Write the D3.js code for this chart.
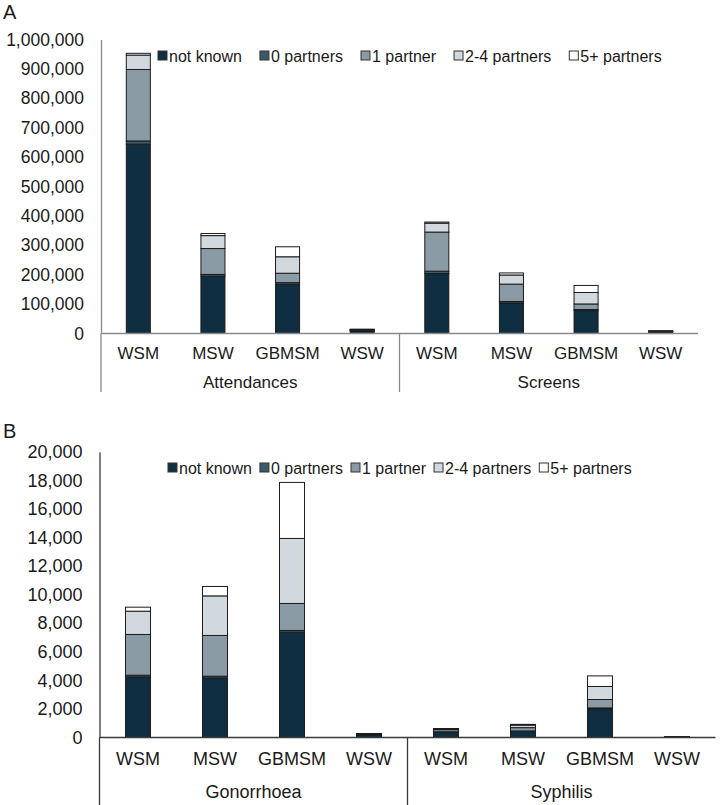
<!DOCTYPE html>
<meta charset="utf-8">
<script src="https://d3js.org/d3.v7.min.js"></script>
<style>
  body { margin: 0; background: #fff; }
  svg text { font-family: "Liberation Sans", Arial, sans-serif; fill: #1a1a1a; }
</style>
<div id="chart"></div>
<script>

// categories and groups (same for both panels)
var categories = ["WSM", "MSW", "GBMSM", "WSW"];
var seriesNames = ["not known", "0 partners", "1 partner", "2-4 partners", "5+ partners"];
var seriesColors = ["#0f2e41", "#3c5a6b", "#8a9ba5", "#d2d9de", "#ffffff"];

// Panel A: Attendances, Screens  (order WSM, MSW, GBMSM, WSW)
var groupsA = ["Attendances", "Screens"];
var attNotKnown = [644000, 195000, 167000, 9000];
var attZero     = [11000, 6000, 6000, 1000];
var attOne      = [243000, 88000, 32000, 2500];
var attTwoFour  = [49000, 44000, 56000, 1500];
var attFivePlus = [6000, 7000, 34000, 500];
var scrNotKnown = [204000, 104000, 78000, 6000];
var scrZero     = [8000, 5000, 3500, 500];
var scrOne      = [133000, 59000, 19000, 1500];
var scrTwoFour  = [30000, 31000, 39000, 800];
var scrFivePlus = [4000, 7000, 24000, 200];
var ticksA = [0, 100000, 200000, 300000, 400000, 500000, 600000, 700000, 800000, 900000, 1000000];

// Panel B: Gonorrhoea, Syphilis
var groupsB = ["Gonorrhoea", "Syphilis"];
var gonNotKnown = [4240, 4170, 7370, 180];
var gonZero     = [120, 120, 120, 20];
var gonOne      = [2850, 2850, 1890, 50];
var gonTwoFour  = [1630, 2770, 4550, 25];
var gonFivePlus = [280, 660, 3920, 5];
var syphNotKnown = [380, 440, 2000, 40];
var syphZero     = [20, 20, 70, 5];
var syphOne      = [150, 230, 590, 15];
var syphTwoFour  = [60, 170, 910, 7];
var syphFivePlus = [20, 60, 740, 3];
var ticksB = [0, 2000, 4000, 6000, 8000, 10000, 12000, 14000, 16000, 18000, 20000];

function buildRows(groups, first, second) {
  var rows = [];
  [first, second].forEach(function(g, gi) {
    categories.forEach(function(c, ci) {
      var row = { key: gi + "-" + c, cat: c, group: groups[gi] };
      seriesNames.forEach(function(s, si) { row[s] = g[si][ci]; });
      rows.push(row);
    });
  });
  return rows;
}

var rowsA = buildRows(groupsA,
  [attNotKnown, attZero, attOne, attTwoFour, attFivePlus],
  [scrNotKnown, scrZero, scrOne, scrTwoFour, scrFivePlus]);
var rowsB = buildRows(groupsB,
  [gonNotKnown, gonZero, gonOne, gonTwoFour, gonFivePlus],
  [syphNotKnown, syphZero, syphOne, syphTwoFour, syphFivePlus]);

var svg = d3.select("#chart").append("svg")
  .attr("width", 722)
  .attr("height", 805);

var fmt = d3.format(",");

function drawPanel(cfg) {
  var g = svg.append("g");

  var x = d3.scaleBand()
    .domain(cfg.rows.map(function(d) { return d.key; }))
    .range([cfg.x0, cfg.x1])
    .paddingInner(cfg.pad)
    .paddingOuter(cfg.pad / 2);

  var y = d3.scaleLinear()
    .domain([0, d3.max(cfg.ticks)])
    .range([cfg.y0, cfg.y1]);

  // y axis: line only, labels to the left
  var yAxis = g.append("g")
    .attr("transform", "translate(" + cfg.x0 + ",0)")
    .call(d3.axisLeft(y).tickValues(cfg.ticks).tickSize(0).tickPadding(17).tickFormat(fmt));
  yAxis.select(".domain").attr("stroke", cfg.axisColor).attr("stroke-width", 1.3);
  yAxis.selectAll("text")
    .attr("font-size", cfg.tickFont)
    .attr("fill", "#1a1a1a")
    .style("font-family", "Liberation Sans, Arial, sans-serif");

  // stacked bars
  var stack = d3.stack().keys(seriesNames)(cfg.rows);
  g.append("g").selectAll("g")
    .data(stack)
    .join("g")
      .attr("fill", function(d, i) { return seriesColors[i]; })
    .selectAll("rect")
    .data(function(d) { return d; })
    .join("rect")
      .attr("x", function(d) { return x(d.data.key); })
      .attr("width", x.bandwidth())
      .attr("y", function(d) { return y(d[1]); })
      .attr("height", function(d) { return y(d[0]) - y(d[1]); })
      .attr("stroke", "#1c1c1c")
      .attr("stroke-width", 1);

  // x axis baseline
  g.append("line")
    .attr("x1", cfg.x0).attr("x2", cfg.x1)
    .attr("y1", cfg.y0).attr("y2", cfg.y0)
    .attr("stroke", cfg.axisColor).attr("stroke-width", 1.3);

  // category labels
  g.append("g").selectAll("text")
    .data(cfg.rows)
    .join("text")
      .attr("x", function(d) { return x(d.key) + x.bandwidth() / 2; })
      .attr("y", cfg.catY)
      .attr("text-anchor", "middle")
      .attr("dominant-baseline", "central")
      .attr("font-size", cfg.catFont)
      .text(function(d) { return d.cat; });

  // group labels and separators
  var half = (cfg.x1 - cfg.x0) / 2;
  cfg.groups.forEach(function(name, gi) {
    g.append("text")
      .attr("x", cfg.x0 + half * gi + half / 2)
      .attr("y", cfg.groupY)
      .attr("text-anchor", "middle")
      .attr("dominant-baseline", "central")
      .attr("font-size", cfg.catFont)
      .text(name);
    g.append("line")
      .attr("x1", cfg.x0 + half * gi).attr("x2", cfg.x0 + half * gi)
      .attr("y1", cfg.y0).attr("y2", cfg.sepBottom)
      .attr("stroke", cfg.axisColor).attr("stroke-width", 1.3);
  });

  // legend
  var lx = cfg.legendX;
  seriesNames.forEach(function(s, i) {
    g.append("rect")
      .attr("x", lx).attr("y", cfg.legendY - 5)
      .attr("width", 9).attr("height", 9)
      .attr("fill", seriesColors[i])
      .attr("stroke", "#333").attr("stroke-width", 1);
    var t = g.append("text")
      .attr("x", lx + 11)
      .attr("y", cfg.legendY)
      .attr("dominant-baseline", "central")
      .attr("font-size", 16)
      .text(s);
    lx += 11 + t.node().getComputedTextLength() + cfg.legendGap;
  });

  // panel letter
  svg.append("text")
    .attr("x", 3).attr("y", cfg.letterY)
    .attr("dominant-baseline", "central")
    .attr("font-size", 20)
    .text(cfg.letter);
}

drawPanel({
  rows: rowsA, groups: groupsA, ticks: ticksA,
  x0: 101, x1: 698, y0: 333.5, y1: 39.5, pad: 0.678,
  catY: 353, groupY: 382, sepBottom: 392,
  tickFont: 17.5, catFont: 17,
  legendX: 158, legendY: 56, legendGap: 18,
  axisColor: "#8a8a8a", letter: "A", letterY: 12
});

drawPanel({
  rows: rowsB, groups: groupsB, ticks: ticksB,
  x0: 99.5, x1: 715.5, y0: 737.5, y1: 451.7, pad: 0.675,
  catY: 759, groupY: 792, sepBottom: 805,
  tickFont: 18, catFont: 18,
  legendX: 168, legendY: 468, legendGap: 8,
  axisColor: "#3a3a3a", letter: "B", letterY: 431
});

</script>
